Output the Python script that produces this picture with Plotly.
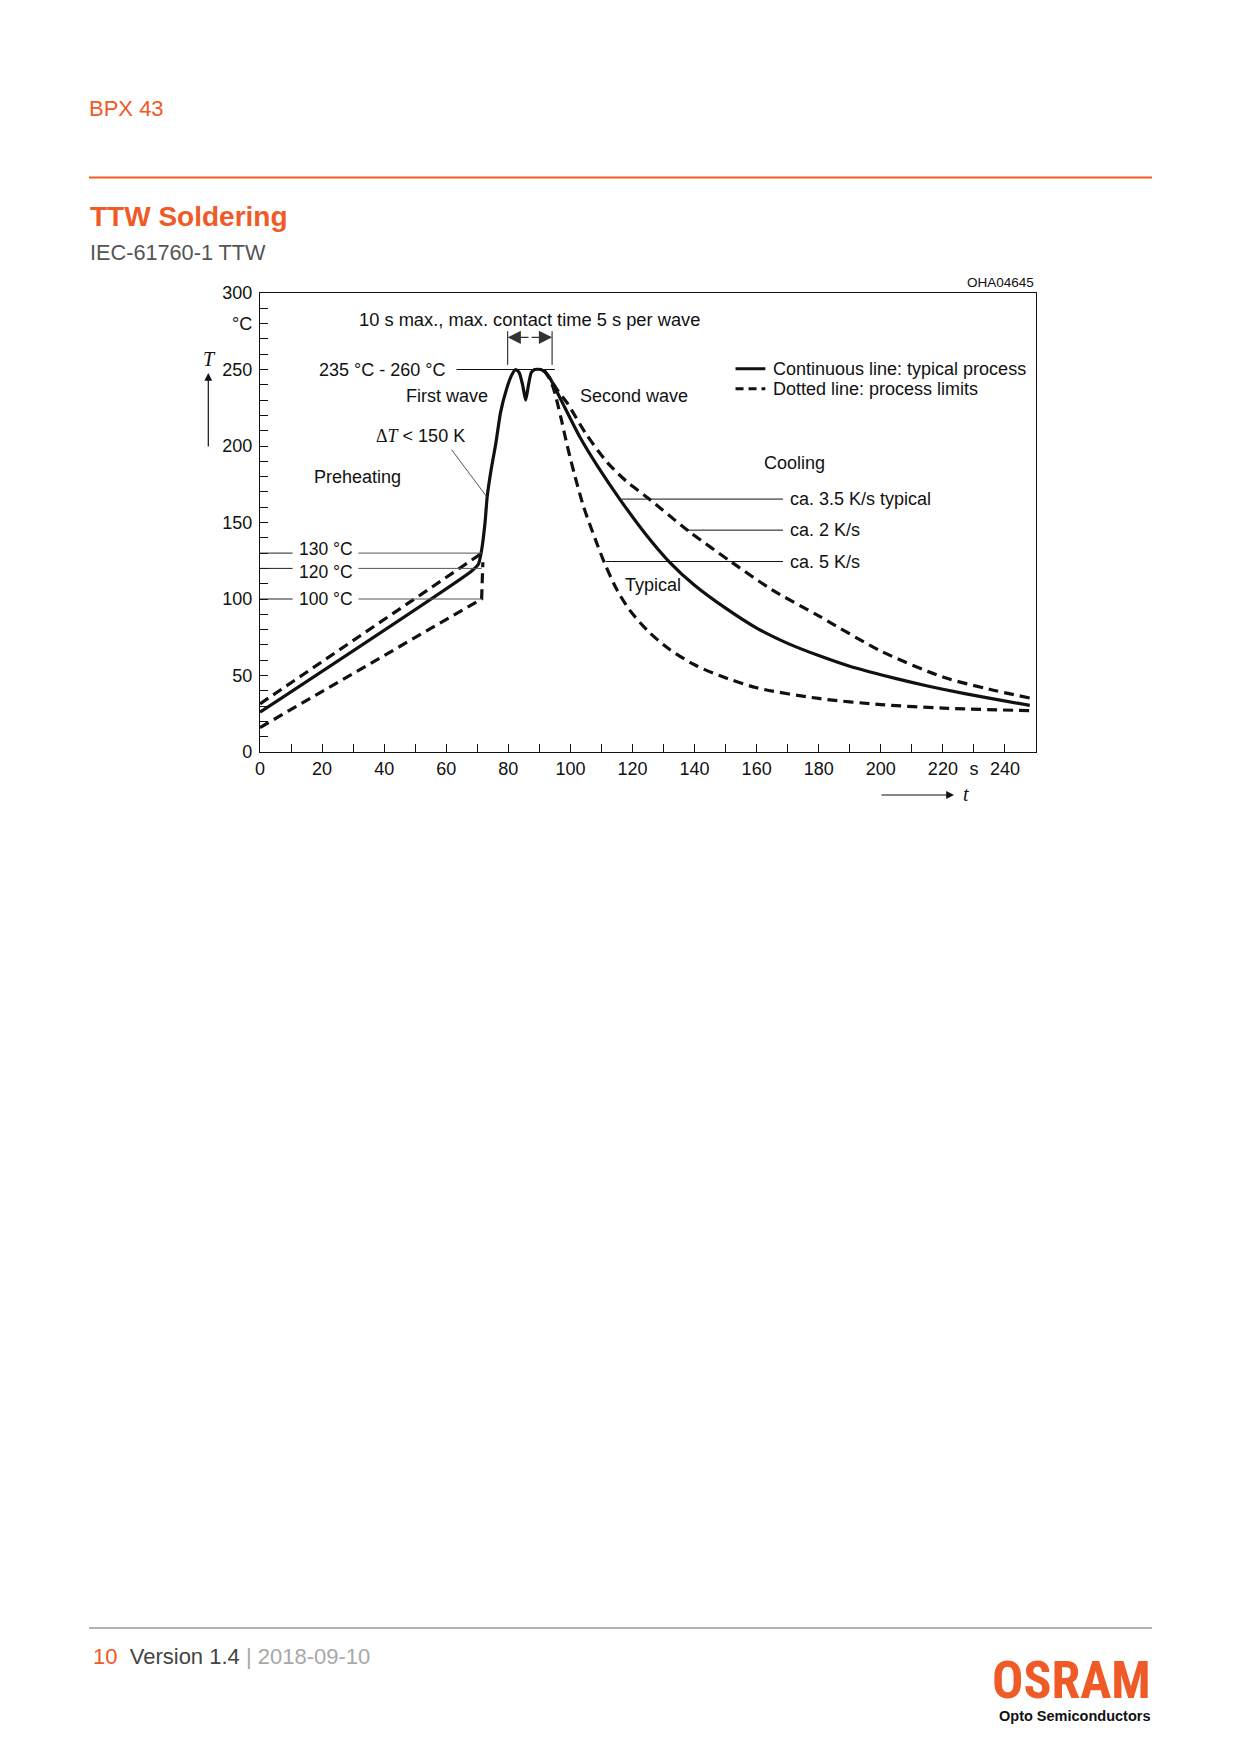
import plotly.graph_objects as go

# ---------------- data ----------------
# typical process (continuous line)
t_typical = [0, 68, 70.3, 71.4, 72.5, 73.2, 74.5, 76, 77.5, 79.4, 81, 82.4, 83.5, 84.6, 85.6, 86.5,
             87.4, 88.5, 90.5, 92, 93.5, 97, 103, 109, 116, 124, 132, 140, 150, 160, 170, 180,
             190, 200, 210, 220, 234, 248]
T_typical = [26, 118, 122.5, 132, 150, 167, 185, 202, 222, 237, 246, 250, 248, 240, 230, 240,
             248, 250, 250, 248, 244, 230, 206, 186, 165, 143, 124, 109, 94, 81, 71, 63,
             56, 50.5, 45.5, 41, 35.5, 30.5]

# process limits (dotted lines)
t_pre_upper = [0, 71.5]
T_pre_upper = [31.5, 130]
t_pre_lower = [0, 71.4, 71.8]
T_pre_lower = [16, 100, 124]

t_cool_slow = [91.5, 93.5, 96, 99, 105, 112, 118, 125, 138, 152, 165, 180, 200, 220, 235, 248]
T_cool_slow = [249.5, 244, 236, 228, 208, 189, 177, 166, 144.5, 124, 106, 89, 66, 49, 41, 35.3]

t_cool_fast = [91.5, 93, 94.5, 97, 99, 101.5, 104.3, 108.4, 111, 115, 119, 125, 132, 140, 148,
               160, 180, 200, 220, 248]
T_cool_fast = [249.5, 245, 238, 218, 200, 180, 160, 137, 123.5, 106, 93, 79, 67, 57, 50,
               42, 35, 31, 28.7, 27]

# reference temperatures
ref_temps = [130, 120, 100]
ref_labels = ["130 °C", "120 °C", "100 °C"]
ref_label_y = [132.5, 117.5, 100]

x_tick_vals = list(range(0, 250, 10))
x_tick_text = ["" if v % 20 else str(v) for v in x_tick_vals]
x_tick_text[x_tick_vals.index(230)] = "s"
y_tick_vals = list(range(0, 310, 10))
y_tick_text = [str(v) if v % 50 == 0 else "" for v in y_tick_vals]
y_tick_text[y_tick_vals.index(280)] = "°C"

# ---------------- layout constants ----------------
W, H = 1240, 1754
L, R, TOP, BOT = 260, 1036, 293, 752
PW, PH = R - L, BOT - TOP
ORANGE = "#EF5A26"
FONT = "Liberation Sans, Arial, Helvetica, sans-serif"
SERIF = "Liberation Serif, Times New Roman, serif"
BLACK = "#111111"


def px(x):
    return (x - L) / PW


def py(y):
    return (BOT - y) / PH


fig = go.Figure()

lw = 3.2
dash = "10px,6px"
fig.add_trace(go.Scatter(x=t_pre_upper, y=T_pre_upper, mode="lines",
                         line=dict(color=BLACK, width=lw, dash=dash)))
fig.add_trace(go.Scatter(x=t_pre_lower, y=T_pre_lower, mode="lines",
                         line=dict(color=BLACK, width=lw, dash=dash)))
fig.add_trace(go.Scatter(x=t_cool_slow, y=T_cool_slow, mode="lines",
                         line=dict(color=BLACK, width=lw, dash=dash, shape="spline", smoothing=0.8)))
fig.add_trace(go.Scatter(x=t_cool_fast, y=T_cool_fast, mode="lines",
                         line=dict(color=BLACK, width=lw, dash=dash, shape="spline", smoothing=0.8)))
fig.add_trace(go.Scatter(x=t_typical, y=T_typical, mode="lines",
                         line=dict(color=BLACK, width=lw, shape="spline", smoothing=0.6)))

shapes = []
ann = []


def line(x0, y0, x1, y1, color=BLACK, width=1, xref="x", yref="y", dash_=None):
    d = dict(type="line", x0=x0, y0=y0, x1=x1, y1=y1, xref=xref, yref=yref,
             line=dict(color=color, width=width))
    if dash_:
        d["line"]["dash"] = dash_
    shapes.append(d)


def text(x, y, s, size=18, xanchor="center", yanchor="middle", xref="x", yref="y",
         color=BLACK, family=FONT):
    ann.append(dict(x=x, y=y, text=s, showarrow=False, xref=xref, yref=yref,
                    xanchor=xanchor, yanchor=yanchor,
                    font=dict(size=size, color=color, family=family)))


# reference temperature lines with labels
for v, lab, ly in zip(ref_temps, ref_labels, ref_label_y):
    line(0, v, 10.5, v, color="#222222", width=1)
    line(31.7, v, 71.4, v, color="#555555", width=1)
    text(12, ly, lab, size=17.5, xanchor="left")

# peak line & contact time bracket
line(63.3, 250, 95, 250, width=1)
line(79.8, 253, 79.8, 275, width=1)
line(94.1, 253, 94.1, 275, width=1)
for xh in (79.8, 94.1):
    ann.append(dict(x=xh, y=271, ax=87, ay=271, axref="x", ayref="y", xref="x", yref="y",
                    text="", showarrow=True, arrowhead=2, arrowsize=2.2, arrowwidth=1.2,
                    arrowcolor="#333333", standoff=0, startstandoff=0))
text(86.9, 282.5, "10 s max., max. contact time 5 s per wave", size=18.3)
text(60.2, 250, "235 °C - 260 °C", xanchor="right")
text(74.2, 233, "First wave", xanchor="right")
text(102.6, 233, "Second wave", xanchor="left")
text(51.7, 206.5, '<span style="font-family:Liberation Serif">Δ<i>T</i></span> &lt; 150 K')
line(61.7, 197.6, 73, 167, color="#555555", width=1)
text(31.4, 180, "Preheating")

# legend
line(153.2, 250.5, 162.8, 250.5, width=3)
line(153.2, 237.5, 162.8, 237.5, width=3, dash_="8px,5px")
text(164.5, 250.5, "Continuous line: typical process", xanchor="left")
text(164.5, 237.5, "Dotted line: process limits", xanchor="left")

# cooling labels
text(172.3, 189, "Cooling")
line(116.5, 165.3, 168.5, 165.3, width=1)
line(137.9, 145, 168.5, 145, width=1)
line(111.5, 124.5, 168.5, 124.5, width=1)
text(170.2, 165.3, "ca. 3.5 K/s typical", xanchor="left")
text(170.2, 145, "ca. 2 K/s", xanchor="left")
text(170.2, 124.5, "ca. 5 K/s", xanchor="left")
text(126.7, 109, "Typical")

# drawing number
text(1.0, py(283), "OHA04645", size=13.5, xanchor="right", xref="paper", yref="paper")

# axis symbols
ann.append(dict(x=px(208.3), y=py(373), xref="paper", yref="paper", ax=0, ay=75,
                text="", showarrow=True, arrowhead=2, arrowsize=1.3, arrowwidth=1.2,
                arrowcolor=BLACK, standoff=0))
text(px(209), py(359), "<i>T</i>", size=20, family=SERIF, xref="paper", yref="paper")
ann.append(dict(x=px(954), y=py(795), xref="paper", yref="paper", ax=-74, ay=0,
                text="", showarrow=True, arrowhead=2, arrowsize=1.3, arrowwidth=1.2,
                arrowcolor=BLACK, standoff=0))
text(px(961), py(794), "<i>t</i>", size=20, family=SERIF, xanchor="left", xref="paper", yref="paper")

# page header
text(px(87), py(108), "BPX 43", size=22, color=ORANGE, xanchor="left", xref="paper", yref="paper")
line(px(89), py(177.5), px(1152), py(177.5), color=ORANGE, width=2, xref="paper", yref="paper")
text(px(88), py(216), "<b>TTW Soldering</b>", size=28, color=ORANGE, xanchor="left",
     xref="paper", yref="paper")
text(px(87.5), py(252), "IEC-61760-1 TTW", size=21.7, color="#555555", xanchor="left",
     xref="paper", yref="paper")

# page footer
line(px(89), py(1628), px(1152), py(1628), color="#666666", width=1, xref="paper", yref="paper")
text(px(91), py(1656),
     '<span style="color:%s">10</span>&nbsp;&nbsp;<span style="color:#444444">Version 1.4</span>'
     '&nbsp;<span style="color:#A8A8A8">| 2018-09-10</span>' % ORANGE,
     size=22, xanchor="left", xref="paper", yref="paper")
text(px(1153), py(1680), "<b>OSRAM</b>", size=52, color=ORANGE, xanchor="right",
     family="Liberation Sans Narrow, Arial Narrow, Roboto Condensed, sans-serif",
     xref="paper", yref="paper")
text(px(1152), py(1716), "<b>Opto Semiconductors</b>", size=14.5, color=BLACK, xanchor="right",
     xref="paper", yref="paper")

fig.update_layout(
    width=W, height=H, autosize=False,
    margin=dict(l=L, r=W - R, t=TOP, b=H - BOT, pad=0),
    paper_bgcolor="white", plot_bgcolor="white",
    showlegend=False,
    font=dict(family=FONT, size=18, color=BLACK),
    shapes=shapes, annotations=ann,
    xaxis=dict(range=[0, 250], tickmode="array", tickvals=x_tick_vals, ticktext=x_tick_text,
               ticks="inside", ticklen=8, tickwidth=1, tickcolor=BLACK,
               showline=True, linecolor=BLACK, linewidth=1.3, mirror=True,
               showgrid=False, zeroline=False, tickfont=dict(size=18, color=BLACK),
               ticklabelstandoff=0),
    yaxis=dict(range=[0, 300], tickmode="array", tickvals=y_tick_vals, ticktext=y_tick_text,
               ticks="inside", ticklen=8, tickwidth=1, tickcolor=BLACK,
               showline=True, linecolor=BLACK, linewidth=1.3, mirror=True,
               showgrid=False, zeroline=False, tickfont=dict(size=18, color=BLACK),
               ticklabelstandoff=3),
)

fig.write_html("out.html", config={"displayModeBar": False},
               post_script="document.body.style.margin='0';")
